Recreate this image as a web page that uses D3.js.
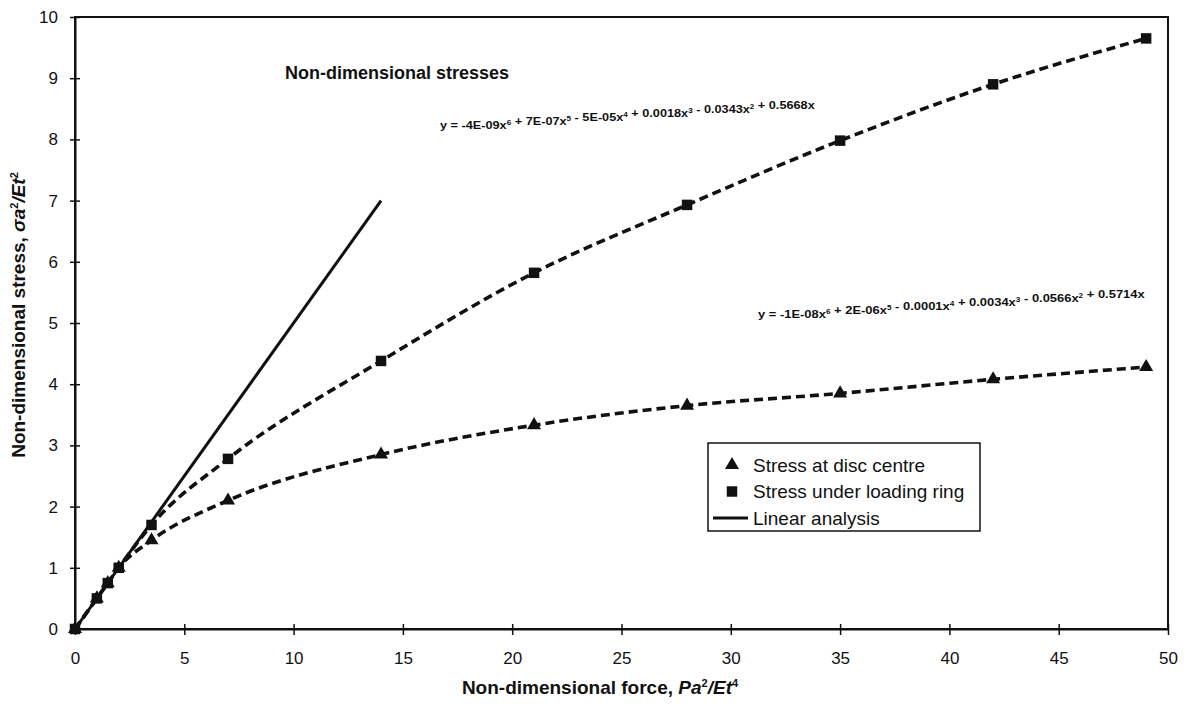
<!DOCTYPE html>
<html>
<head>
  <title>Non-dimensional stresses</title>
  <script src="https://d3js.org/d3.v7.min.js"></script>
  <style>
    body { margin: 0; background: #fff; }
    text { font-family: "Liberation Sans", Arial, sans-serif; fill: #111; }
  </style>
</head>
<body>
  <div id="chart"></div>

  <script>
    // values
    var force = [0, 1, 1.5, 2, 3.5, 7, 14, 21, 28, 35, 42, 49];
    var stressCentre = [0, 0.5, 0.75, 1.0, 1.45, 2.1, 2.85, 3.33, 3.65, 3.85, 4.08, 4.28];
    var stressRing = [0, 0.5, 0.75, 1.0, 1.7, 2.78, 4.38, 5.82, 6.93, 7.98, 8.9, 9.65];
    var linearForce = [0, 14];
    var linearStress = [0, 7.0];
    var xTicks = [0, 5, 10, 15, 20, 25, 30, 35, 40, 45, 50];
    var yTicks = [0, 1, 2, 3, 4, 5, 6, 7, 8, 9, 10];
    var legendLabels = ["Stress at disc centre", "Stress under loading ring", "Linear analysis"];

    var width = 1188, height = 707;
    var margin = { top: 17, right: 20, bottom: 78, left: 75 };

    var svg = d3.select("#chart").append("svg")
      .attr("width", width)
      .attr("height", height);

    var x = d3.scaleLinear().domain([0, 50]).range([margin.left, width - margin.right]);
    var y = d3.scaleLinear().domain([0, 10]).range([height - margin.bottom, margin.top]);

    // frame
    svg.append("rect")
      .attr("x", x(0)).attr("y", y(10))
      .attr("width", x(50) - x(0)).attr("height", y(0) - y(10))
      .attr("fill", "none").attr("stroke", "#111").attr("stroke-width", 2);

    // axes, ticks cross the axis line
    var xAxis = svg.append("g")
      .attr("transform", "translate(0," + y(0) + ")")
      .call(d3.axisBottom(x).tickValues(xTicks).tickSizeInner(6).tickSizeOuter(0).tickPadding(17));
    xAxis.selectAll("line").attr("y1", -5).attr("stroke", "#111").attr("stroke-width", 1.5);

    var yAxis = svg.append("g")
      .attr("transform", "translate(" + x(0) + ",0)")
      .call(d3.axisLeft(y).tickValues(yTicks).tickSizeInner(5).tickSizeOuter(0).tickPadding(12));
    yAxis.selectAll("line").attr("x1", 5).attr("x2", -5).attr("stroke", "#111").attr("stroke-width", 1.5);

    svg.selectAll(".domain").attr("stroke", "#111").attr("stroke-width", 2);
    svg.selectAll(".tick text").attr("font-size", 17).attr("fill", "#111")
      .style("font-family", "'Liberation Sans', Arial, sans-serif");

    // axis titles
    var xt = svg.append("text")
      .attr("x", 600).attr("y", 694)
      .attr("text-anchor", "middle").attr("font-size", 19).attr("font-weight", "bold");
    xt.append("tspan").text("Non-dimensional force, ");
    xt.append("tspan").attr("font-style", "italic").text("Pa");
    xt.append("tspan").attr("font-size", 11).attr("dy", -7).text("2");
    xt.append("tspan").attr("font-style", "italic").attr("dy", 7).text("/Et");
    xt.append("tspan").attr("font-size", 11).attr("dy", -7).text("4");

    var yt = svg.append("text")
      .attr("transform", "translate(25,315) rotate(-90)")
      .attr("text-anchor", "middle").attr("font-size", 19).attr("font-weight", "bold");
    yt.append("tspan").text("Non-dimensional stress, ");
    yt.append("tspan").attr("font-style", "italic").text("σa");
    yt.append("tspan").attr("font-size", 11).attr("dy", -7).text("2");
    yt.append("tspan").attr("font-style", "italic").attr("dy", 7).text("/Et");
    yt.append("tspan").attr("font-size", 11).attr("dy", -7).text("2");

    // chart title
    svg.append("text")
      .attr("x", 285).attr("y", 79)
      .attr("font-size", 18).attr("font-weight", "bold")
      .text("Non-dimensional stresses");

    // series
    var line = d3.line()
      .x(function(d) { return x(d[0]); })
      .y(function(d) { return y(d[1]); })
      .curve(d3.curveMonotoneX);

    var centreData = d3.zip(force, stressCentre);
    var ringData = d3.zip(force, stressRing);

    svg.append("path").datum(centreData)
      .attr("d", line).attr("fill", "none").attr("stroke", "#111")
      .attr("stroke-width", 3.6).attr("stroke-dasharray", "9,5");
    svg.append("path").datum(ringData)
      .attr("d", line).attr("fill", "none").attr("stroke", "#111")
      .attr("stroke-width", 3.6).attr("stroke-dasharray", "9,5");
    svg.append("path").datum(d3.zip(linearForce, linearStress))
      .attr("d", d3.line().x(function(d) { return x(d[0]); }).y(function(d) { return y(d[1]); }))
      .attr("fill", "none").attr("stroke", "#111").attr("stroke-width", 3);

    var tri = d3.symbol().type(d3.symbolTriangle).size(85);
    var sq = d3.symbol().type(d3.symbolSquare).size(110);

    svg.selectAll(".tri").data(centreData).enter().append("path")
      .attr("class", "tri")
      .attr("d", tri)
      .attr("transform", function(d) { return "translate(" + x(d[0]) + "," + y(d[1]) + ")"; })
      .attr("fill", "#111");
    svg.selectAll(".sq").data(ringData).enter().append("path")
      .attr("class", "sq")
      .attr("d", sq)
      .attr("transform", function(d) { return "translate(" + x(d[0]) + "," + y(d[1]) + ")"; })
      .attr("fill", "#111");

    // trendline equations
    function equation(xp, yp, w, terms) {
      var t = svg.append("text").attr("x", xp).attr("y", yp)
        .attr("font-size", 11).attr("font-weight", "bold");
      t.append("tspan").text("y = ");
      terms.forEach(function(term) {
        t.append("tspan").attr("dy", 0).text(term[0]);
        if (term[1]) {
          t.append("tspan").attr("font-size", 7).attr("dy", -4).text(term[1]);
          t.append("tspan").attr("dy", 4).text("");
        }
      });
      var tw = t.node().getComputedTextLength();
      t.attr("transform", "translate(" + xp + ",0) scale(" + (w / tw) + ",1) translate(" + (-xp) + ",0)");
    }
    equation(440, 129, 375, [["-4E-09x", "6"], [" + 7E-07x", "5"], [" - 5E-05x", "4"],
      [" + 0.0018x", "3"], [" - 0.0343x", "2"], [" + 0.5668x", ""]]);
    equation(758, 318, 387, [["-1E-08x", "6"], [" + 2E-06x", "5"], [" - 0.0001x", "4"],
      [" + 0.0034x", "3"], [" - 0.0566x", "2"], [" + 0.5714x", ""]]);

    // legend
    var lg = svg.append("g").attr("transform", "translate(708,443)");
    lg.append("rect").attr("width", 272).attr("height", 88)
      .attr("fill", "#fff").attr("stroke", "#111").attr("stroke-width", 1.5);
    var rows = lg.selectAll(".row").data(legendLabels).enter().append("g")
      .attr("transform", function(d, i) { return "translate(0," + (22 + i * 26.5) + ")"; });
    rows.append("text").attr("x", 45).attr("dy", "0.35em")
      .attr("font-size", 19).text(function(d) { return d; });
    rows.filter(function(d, i) { return i === 0; }).append("path")
      .attr("d", tri).attr("transform", "translate(24,0)").attr("fill", "#111");
    rows.filter(function(d, i) { return i === 1; }).append("path")
      .attr("d", sq).attr("transform", "translate(24,0)").attr("fill", "#111");
    rows.filter(function(d, i) { return i === 2; }).append("line")
      .attr("x1", 5).attr("x2", 40).attr("stroke", "#111").attr("stroke-width", 3);
  </script>
</body>
</html>
